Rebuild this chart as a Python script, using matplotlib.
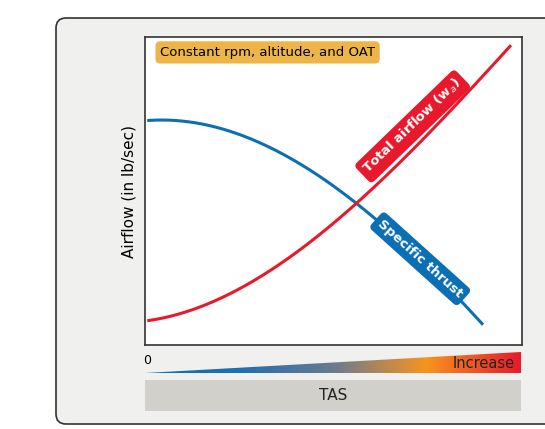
import numpy as np
import matplotlib
matplotlib.use("Agg")
import matplotlib.pyplot as plt
from matplotlib.patches import FancyBboxPatch, Polygon
from matplotlib.colors import LinearSegmentedColormap

# data (TAS fraction, airflow in axes %)
tas_blue = [0.01, 0.2, 0.4, 0.55, 0.7, 0.894]
thrust = [73, 70, 60, 47, 31, 7]
tas_red = [0.01, 0.2, 0.4, 0.55, 0.7, 0.968]
airflow = [8, 15, 30, 45, 62, 97]

W, H = 545, 429
fig = plt.figure(figsize=(W/100, H/100), dpi=100)
bg = fig.add_axes([0, 0, 1, 1]); bg.set_xlim(0, W); bg.set_ylim(H, 0); bg.axis('off')
bg.add_patch(FancyBboxPatch((56, 18), 500, 406, boxstyle="round,pad=0,rounding_size=10",
                            fc='#f0f0ee', ec='#333333', lw=1.2))
bg.add_patch(FancyBboxPatch((145, 380), 376, 31, boxstyle="square,pad=0", fc='#d1d0cb', ec='none'))
bg.text(333, 396, 'TAS', ha='center', va='center', fontsize=11, color='#222')
bg.text(147, 360, '0', ha='center', va='center', fontsize=9)

cmap = LinearSegmentedColormap.from_list('g', ['#0b6fb5', '#1f6fb0', '#6a7a90', '#f7941d', '#e8192c'])
im = bg.imshow(np.linspace(0, 1, 256)[None, :], cmap=cmap, aspect='auto',
               extent=(145, 521, 373, 352), zorder=2)
poly = Polygon([(145, 373), (521, 352), (521, 373)], closed=True, transform=bg.transData)
im.set_clip_path(poly)
bg.text(515, 364, 'Increase', ha='right', va='center', fontsize=10.5, color='#222', zorder=3)

ax = fig.add_axes([145/W, 1-345/H, 377/W, 308/H])
ax.set_facecolor('white')
for s in ax.spines.values():
    s.set_color('#333'); s.set_linewidth(1.2)
ax.set_xlim(0, 1); ax.set_ylim(0, 100)
ax.set_xticks([]); ax.set_yticks([])

xs = np.linspace(0.01, 0.894, 200)
ax.plot(xs, np.interp(xs, tas_blue, np.polyval(np.polyfit(tas_blue, thrust, 3), tas_blue)) * 0 +
        np.polyval(np.polyfit(tas_blue, thrust, 3), xs), color='#0b6fb5', lw=2.2)
xr = np.linspace(0.01, 0.968, 200)
ax.plot(xr, np.polyval(np.polyfit(tas_red, airflow, 3), xr), color='#e8192c', lw=2.2)

ax.set_ylabel('Airflow (in lb/sec)', fontsize=11, labelpad=6)
ax.text(0.04, 0.95, 'Constant rpm, altitude, and OAT', transform=ax.transAxes, fontsize=9.5,
        va='center', ha='left',
        bbox=dict(boxstyle='round,pad=0.35', fc='#edb548', ec='none'))
ax.text(0.71, 0.71, 'Total airflow (w$_a$)', transform=ax.transAxes, rotation=44,
        fontsize=9.5, color='white', weight='bold', ha='center', va='center',
        bbox=dict(boxstyle='round,pad=0.35', fc='#e8192c', ec='none'))
ax.text(0.73, 0.28, 'Specific thrust', transform=ax.transAxes, rotation=-42,
        fontsize=9.5, color='white', weight='bold', ha='center', va='center',
        bbox=dict(boxstyle='round,pad=0.35', fc='#0b6fb5', ec='none'))

fig.savefig('out.png', dpi=100)
